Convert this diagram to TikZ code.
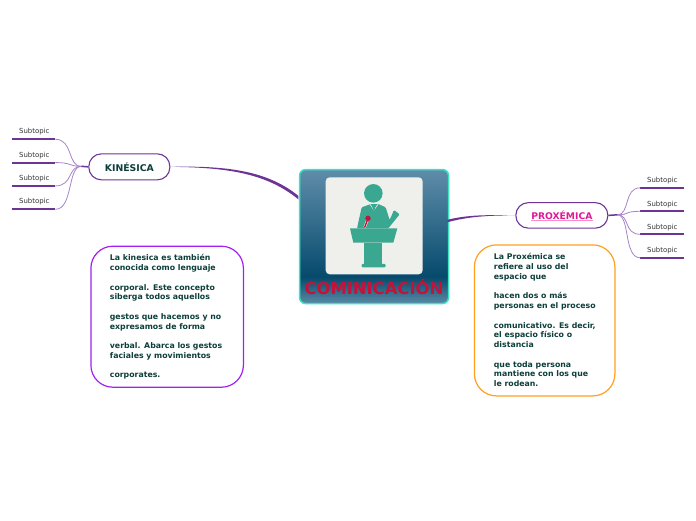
\documentclass[tikz,border=0pt]{standalone}
\usepackage{fontspec}
\setmainfont{DejaVu Sans}
\usetikzlibrary{calc}
\definecolor{linkp}{HTML}{6C3497}
\definecolor{lightp}{HTML}{A883C8}
\definecolor{darkg}{HTML}{0C3F3A}
\definecolor{teal1}{HTML}{3AA791}
\definecolor{crim}{HTML}{C4123A}
\definecolor{card}{HTML}{EFF0EC}
\definecolor{coreedge}{HTML}{3BE5C4}
\definecolor{gradlight}{HTML}{5F8DAA}
\definecolor{graddark}{HTML}{064A6C}
\definecolor{gradlow}{HTML}{5A8AA6}
\definecolor{purpnote}{HTML}{A420F0}
\definecolor{orangenote}{HTML}{FFA01E}
\definecolor{pinktext}{HTML}{E01896}
\definecolor{pinkline}{HTML}{F48CCD}
\pgfdeclareverticalshading{coregrad}{100bp}{color(0bp)=(gradlow);color(25bp)=(gradlow);color(35bp)=(graddark);color(75bp)=(gradlight);color(100bp)=(gradlight)}
\tikzset{
 x=1pt,y=-1pt,
 corebox/.style={draw=coreedge,minimum width=149pt,minimum height=134pt,rounded corners=6pt,line width=1.5pt,inner sep=0pt},
 topicbox/.style={draw=linkp,fill=white,line width=1.1pt,rounded corners=12.5pt,inner sep=0pt},
 notebox/.style={fill=white,line width=1.2pt,rounded corners=22pt,inner sep=0pt},
 notetext/.style={font=\fontsize{7.8}{9.75}\selectfont\bfseries,text=darkg,align=left,inner sep=0pt,anchor=north west},
 sublabel/.style={font=\fontsize{6.95}{9}\selectfont,text=black!80,inner sep=0pt},
 subline/.style={draw=linkp,line width=1.9pt},
 subcurve/.style={draw=lightp,line width=0.8pt},
 stub/.style={draw=linkp,line width=1.5pt},
}
\begin{document}
\begin{tikzpicture}
\useasboundingbox (0.7,0.7) rectangle (696.7,520.7);
% central box
\node[corebox,shading=coregrad,anchor=north west] (core) at (299.5,169.5) {};
\coordinate (coreL1) at (299,196.5);
\coordinate (coreL2) at (299,200);
\coordinate (coreR1) at (448,220.5);
\coordinate (coreR2) at (448,223);
% topics
\node[topicbox,minimum width=81pt,minimum height=26pt,anchor=north west,font=\fontsize{9.3}{10}\selectfont\bfseries,text=darkg] (kin) at (89,154) {KINÉSICA};
\node[topicbox,minimum width=92pt,minimum height=25.5pt,anchor=north west,font=\fontsize{9.2}{10}\selectfont\bfseries,text=pinktext] (prox) at (516,202.8) {PROXÉMICA};
\fill[pinkline] (531.5,220.5) rectangle (593.5,221.5);
% main links
\fill[linkp] (kin.east) .. controls (232,166) and (270,173) .. (coreL1) -- (coreL2) .. controls (269,175.5) and (232,168) .. (kin.east);
\fill[linkp] (prox.west) .. controls (488,215.5) and (468,215.5) .. (coreR1) -- (coreR2) .. controls (468,217.5) and (488,216) .. (prox.west);
% left subtopics
\coordinate (khub) at (82,167);
\coordinate (phub) at (618,215.5);
\foreach \n/\ly/\y in {1/132.6/140,2/155.9/163.3,3/179.1/186.6,4/202.4/210}{
  \node[sublabel] (kl\n) at (35,\ly) {Subtopic};
  \coordinate (kla\n) at (13,\y);
  \coordinate (klb\n) at (56,\y);
  \draw[subline] (kla\n) -- (klb\n);
  \draw[subcurve] (klb\n) .. controls (74,\y) and (68,167) .. (khub);
}
\draw[stub] (khub) -- (kin.west);
\foreach \n/\ly/\y in {1/181.6/188.5,2/204.9/212,3/228.1/235,4/251.7/258.5}{
  \node[sublabel] (pl\n) at (663,\ly) {Subtopic};
  \coordinate (pla\n) at (641,\y);
  \coordinate (plb\n) at (685,\y);
  \draw[subline] (pla\n) -- (plb\n);
  \draw[subcurve] (pla\n) .. controls (624,\y) and (631,215.5) .. (phub);
}
\draw[stub] (prox.east) -- (phub);
% notes
\node[notebox,draw=purpnote,minimum width=152.5pt,minimum height=141pt,anchor=north west] (note1) at (91,246.3) {};
\node[notetext] (text1) at (110.4,255.2) {La kinesica es también\\conocida como lenguaje\\[9.75pt]corporal. Este concepto\\siberga todos aquellos\\[9.75pt]gestos que hacemos y no\\expresamos de forma\\[9.75pt]verbal. Abarca los gestos\\faciales y movimientos\\[9.75pt]corporates.};
\node[notebox,draw=orangenote,minimum width=140.5pt,minimum height=151pt,anchor=north west] (note2) at (474.5,245) {};
\node[notetext] (text2) at (494.4,254.2) {La Proxémica se\\refiere al uso del\\espacio que\\[9.75pt]hacen dos o más\\personas en el proceso\\[9.75pt]comunicativo. Es decir,\\el espacio físico o\\distancia\\[9.75pt]que toda persona\\mantiene con los que\\le rodean.};
% card and figure (coordinates follow the artwork)
\begin{scope}[shift={(290.7,160.7)},x=0.3333pt,y=-0.3333pt]
\fill[card,rounded corners=4pt] (107,52) rectangle (398,343);
\fill[teal1] (250,100) circle (9.3pt);
\fill[teal1,rounded corners=1pt] (215,142) -- (243,132) -- (265,132) -- (287,142) -- (299,180) -- (312,150) -- (329,163) -- (295,205) -- (201,205) -- cycle;
\draw[card,line width=0.6pt] (240,133) -- (252,150) -- (264,133);
\fill[teal1] (246,136) -- (256,136) -- (254,150) -- (250,150) -- cycle;
\fill[teal1] (180,205) -- (322,205) -- (310,248) -- (190,248) -- cycle;
\fill[teal1] (223,250) rectangle (277,312);
\fill[teal1,rounded corners=1pt] (215,312) rectangle (287,322);
\draw[card,line width=2.4pt] (233,178) -- (224,202);
\draw[crim,line width=1.4pt] (233,178) -- (224,202);
\fill[crim] (234,175) circle (2.7pt);
\end{scope}
\node[inner sep=0pt,font=\fontsize{16.4}{18}\selectfont\bfseries,text=crim] (title) at (374.6,287.4) {COMINICACIÓN};
\end{tikzpicture}
\end{document}
